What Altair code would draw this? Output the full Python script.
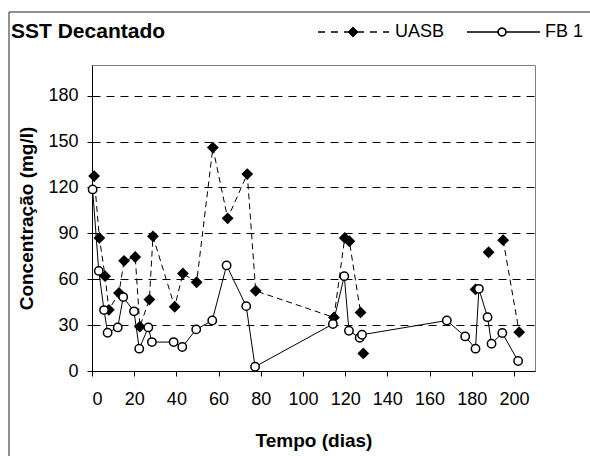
import altair as alt
import pandas as pd

# UASB series (days, mg/l); seg marks broken line pieces
uasb_x = [1, 3.5, 6.2, 8, 12.8, 15.2, 20.5, 22.7, 27.2, 28.9, 39.2, 43.1, 49.6, 57.3, 64.3, 73.6, 77.6,
          114.7, 119.8, 122, 127.3, 128.6, 181.8, 188, 194.9, 202.5]
uasb_y = [127.4, 87, 62, 40, 51, 72, 74.5, 29, 46.7, 88, 42, 63.7, 58, 146, 99.8, 128.7, 52.4,
          35, 87, 84.8, 38.3, 11.5, 53.3, 77.6, 85.5, 25.4]
uasb_seg = [0] * 21 + [1, 2, 3, 4, 4]

# FB 1 series
fb1_x = [0.3, 3.2, 5.7, 7.4, 12.2, 14.8, 19.9, 22.4, 26.7, 28.4, 38.7, 42.8, 49.4, 57, 63.8, 73.1, 77.3,
         114.2, 119.6, 121.8, 126.9, 128, 168.2, 176.9, 181.8, 183.4, 187.5, 189.4, 194.5, 202]
fb1_y = [118.7, 65.4, 39.8, 25, 28.5, 48.3, 39, 14.6, 28.5, 18.9, 18.9, 15.7, 27.2, 33, 69, 42.4, 2.8,
         30.7, 62, 26.3, 21.7, 23.7, 33, 22.6, 14.6, 53.7, 35.2, 17.8, 24.8, 6.5]

x_ticks = [0, 20, 40, 60, 80, 100, 120, 140, 160, 180, 200]
y_ticks = [0, 30, 60, 90, 120, 150, 180]

title_text = "SST Decantado"
series_names = ["UASB", "FB 1"]

FONT = "Liberation Sans"

uasb = pd.DataFrame({"x": uasb_x, "y": uasb_y, "seg": uasb_seg})
fb1 = pd.DataFrame({"x": fb1_x, "y": fb1_y})

xs = alt.Scale(domain=[0, 210], nice=False, zero=False)
ys = alt.Scale(domain=[0, 200], nice=False)

xenc = alt.X("x:Q", scale=xs, axis=alt.Axis(values=x_ticks, title="Tempo (dias)", grid=False,
                                           labelPadding=14, titlePadding=23))
yenc = alt.Y("y:Q", scale=ys, axis=alt.Axis(values=y_ticks, title="Concentração (mg/l)", grid=True,
                                           labelPadding=9, titlePadding=11))

uasb_line = alt.Chart(uasb).mark_line(color="black", strokeWidth=1, strokeDash=[6, 4]).encode(
    x=xenc, y=yenc, detail="seg:N")
uasb_pts = alt.Chart(uasb).mark_point(shape="diamond", filled=True, color="black", size=140, opacity=1).encode(
    x="x:Q", y="y:Q")
fb1_line = alt.Chart(fb1).mark_line(color="black", strokeWidth=1).encode(x="x:Q", y="y:Q")
fb1_pts = alt.Chart(fb1).mark_point(shape="circle", filled=True, fill="white", stroke="black",
                                    strokeWidth=1.5, size=70, opacity=1).encode(x="x:Q", y="y:Q")

one = pd.DataFrame({"t": [title_text]})
frame = alt.Chart(one).mark_rect(fillOpacity=0, stroke="#222222", strokeWidth=1).encode(
    x=alt.value(-83), x2=alt.value(540), y=alt.value(-53), y2=alt.value(420))
title = alt.Chart(one).mark_text(font=FONT, fontSize=21, fontWeight="bold", align="left",
                                 baseline="middle", color="black").encode(
    x=alt.value(-81), y=alt.value(-33), text="t:N")

leg = pd.DataFrame({"name": series_names})
leg_u_line = alt.Chart(leg).mark_rule(color="black", strokeWidth=1, strokeDash=[7, 6]).encode(
    x=alt.value(226), x2=alt.value(297), y=alt.value(-33))
leg_u_pt = alt.Chart(leg).mark_point(shape="diamond", filled=True, color="black", size=110, opacity=1).encode(
    x=alt.value(261), y=alt.value(-33))
leg_f_line = alt.Chart(leg).mark_rule(color="black", strokeWidth=1).encode(
    x=alt.value(375), x2=alt.value(448), y=alt.value(-33))
leg_f_pt = alt.Chart(leg).mark_point(shape="circle", filled=True, fill="white", stroke="black",
                                     strokeWidth=1.5, size=60, opacity=1).encode(
    x=alt.value(410), y=alt.value(-33))
leg_u_txt = alt.Chart(pd.DataFrame({"t": [series_names[0]]})).mark_text(
    font=FONT, fontSize=18, align="left", baseline="middle", color="black").encode(
    x=alt.value(303), y=alt.value(-33), text="t:N")
leg_f_txt = alt.Chart(pd.DataFrame({"t": [series_names[1]]})).mark_text(
    font=FONT, fontSize=18, align="left", baseline="middle", color="black").encode(
    x=alt.value(453), y=alt.value(-33), text="t:N")

chart = alt.layer(
    uasb_line, uasb_pts, fb1_line, fb1_pts, frame, title,
    leg_u_line, leg_u_pt, leg_f_line, leg_f_pt, leg_u_txt, leg_f_txt
).properties(
    width=443, height=306,
    padding={"left": 92, "top": 65, "right": 55, "bottom": 85},
    autosize=alt.AutoSizeParams(type="none"),
    background="white",
).configure_view(
    stroke="#808080", strokeWidth=1
).configure_axis(
    labelFont=FONT, labelFontSize=18, labelColor="black",
    titleFont=FONT, titleFontSize=19, titleFontWeight="bold", titleColor="black",
    domainColor="black", domainWidth=1, tickColor="black", tickSize=5, tickWidth=1,
    gridColor="black", gridDash=[8, 6], gridWidth=1, gridOpacity=1,
)

chart.save("out.html", embed_options={"renderer": "svg", "actions": False})
